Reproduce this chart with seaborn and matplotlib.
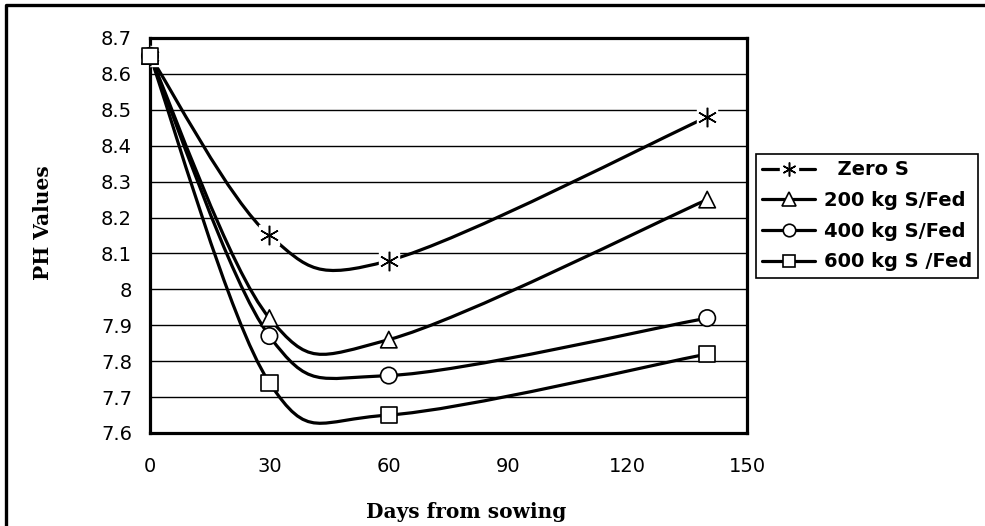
import pandas as pd
import matplotlib.pyplot as plt
import seaborn as sns
from matplotlib.path import Path
from matplotlib.patches import PathPatch
from matplotlib.lines import Line2D
from matplotlib.ticker import FuncFormatter, MultipleLocator
from matplotlib.legend_handler import HandlerTuple

# Data
days = [0, 30, 60, 140]
zero_s = [8.65, 8.15, 8.08, 8.48]
s200 = [8.65, 7.92, 7.86, 8.25]
s400 = [8.65, 7.87, 7.76, 7.92]
s600 = [8.65, 7.74, 7.65, 7.82]
series_names = ["Zero S", "200 kg S/Fed", "400 kg S/Fed", "600 kg S /Fed"]

sns.set_style("white")
plt.rcParams["font.family"] = ["DejaVu Sans"]
plt.rcParams.update({"text.color": "black", "axes.labelcolor": "black",
                     "xtick.color": "black", "ytick.color": "black"})

df = pd.DataFrame({
    "days": days * 4,
    "ph": zero_s + s200 + s400 + s600,
    "series": [n for n in series_names for _ in days],
})


def smooth_path(xs, ys):
    # Excel-like smoothed line: cubic Bezier through the points
    pts = list(zip(xs, ys))
    n = len(pts)
    verts = [pts[0]]
    codes = [Path.MOVETO]
    for i in range(n - 1):
        p0 = pts[i - 1] if i > 0 else pts[i]
        p1 = pts[i]
        p2 = pts[i + 1]
        p3 = pts[i + 2] if i + 2 < n else pts[i + 1]
        c1 = (p1[0] + (p2[0] - p0[0]) / 6, p1[1] + (p2[1] - p0[1]) / 6)
        c2 = (p2[0] - (p3[0] - p1[0]) / 6, p2[1] - (p3[1] - p1[1]) / 6)
        verts += [c1, c2, p2]
        codes += [Path.CURVE4] * 3
    return Path(verts, codes)


fig = plt.figure(figsize=(9.85, 5.26), dpi=100)
ax = fig.add_axes([150 / 985, 1 - 433 / 526, 597 / 985, 395 / 526])

# smoothed lines
for name in series_names:
    sub = df[df["series"] == name]
    patch = PathPatch(smooth_path(sub["days"].tolist(), sub["ph"].tolist()),
                      facecolor="none", edgecolor="black", lw=2.3,
                      zorder=3, capstyle="round", joinstyle="round")
    ax.add_patch(patch)

# markers
zs = df[df["series"] == "Zero S"]
ax.plot(zs["days"], zs["ph"], ls="none", marker="s", ms=15, mfc="white",
        mec="white", zorder=4)
ax.plot(zs["days"], zs["ph"], ls="none", marker=(6, 2, 0), ms=14, mec="black",
        mew=1.1, zorder=5)

filled = df[df["series"] != "Zero S"]
sns.scatterplot(data=filled, x="days", y="ph", style="series",
                markers={"200 kg S/Fed": "^", "400 kg S/Fed": "o",
                         "600 kg S /Fed": "s"},
                color="white", edgecolor="black", linewidth=1.2, s=140,
                legend=False, ax=ax, zorder=5, clip_on=False)

ax.set_xlim(0, 150)
ax.set_ylim(7.6, 8.7)
ax.xaxis.set_major_locator(MultipleLocator(30))
ax.yaxis.set_major_locator(MultipleLocator(0.1))
ax.yaxis.set_major_formatter(FuncFormatter(lambda v, p: f"{round(v, 1):g}"))
ax.grid(axis="y", color="black", lw=1)
ax.set_axisbelow(True)
for sp in ax.spines.values():
    sp.set_visible(True)
    sp.set_color("black")
    sp.set_linewidth(2.3)
ax.tick_params(axis="both", direction="out", length=5, width=1.2,
               color="black", labelcolor="black", labelsize=14, pad=8)
ax.tick_params(axis="x", pad=12)
ax.set_xlabel("")
ax.set_ylabel("")

fig.text(466 / 985, 1 - 512 / 526, "Days from sowing", ha="center", va="center",
         fontsize=14.5, fontweight="bold", family="DejaVu Serif", color="black")
fig.text(43 / 985, 1 - 223 / 526, "PH Values", ha="center", va="center",
         rotation=90, fontsize=14.5, fontweight="bold", family="DejaVu Serif",
         color="black")

# legend
h_zero = (Line2D([], [], color="black", lw=2.3),
          Line2D([], [], ls="none", marker="s", ms=13, mfc="white", mec="white"),
          Line2D([], [], ls="none", marker=(6, 2, 0), ms=10, mec="black", mew=1.1))
h200 = Line2D([], [], color="black", lw=2.3, marker="^", ms=10, mfc="white",
              mec="black", mew=1.2)
h400 = Line2D([], [], color="black", lw=2.3, marker="o", ms=9, mfc="white",
              mec="black", mew=1.2)
h600 = Line2D([], [], color="black", lw=2.3, marker="s", ms=9, mfc="white",
              mec="black", mew=1.2)
labels = ["  " + series_names[0]] + series_names[1:]
leg = fig.legend([h_zero, h200, h400, h600], labels,
                 handler_map={tuple: HandlerTuple(ndivide=1, pad=0)},
                 loc="upper left", bbox_to_anchor=(756 / 985, 1 - 154 / 526),
                 frameon=True, fancybox=False, framealpha=1, edgecolor="black",
                 prop={"weight": "bold", "size": 14}, handlelength=2.7,
                 handletextpad=0.45, labelspacing=0.6, borderpad=0.33,
                 borderaxespad=0)
leg.get_frame().set_linewidth(1.2)
for t in leg.get_texts():
    t.set_color("black")

# outer chart border (top and left visible)
fig.add_artist(Line2D([6 / 985, 6 / 985, 1.0], [0.0, 1 - 5 / 526, 1 - 5 / 526],
                      transform=fig.transFigure, color="black", lw=2.4))

plt.savefig("out.png", dpi=100)
